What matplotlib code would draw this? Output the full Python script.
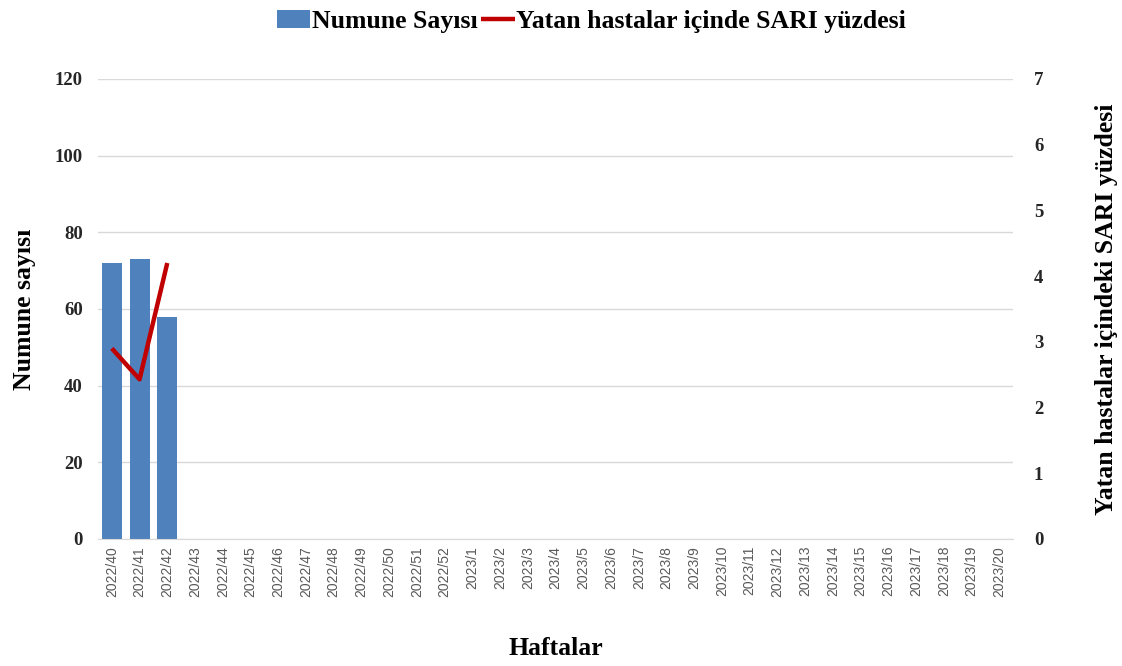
import matplotlib
matplotlib.use('Agg')
import matplotlib.pyplot as plt
import numpy as np

# haftalar
weeks = ['2022/%d' % w for w in range(40, 53)] + ['2023/%d' % w for w in range(1, 21)]
numune = [72, 73, 58]
sari_yuzde = [2.9, 2.43, 4.2]

serif = 'Liberation Serif'

fig = plt.figure(figsize=(11.22, 6.66), dpi=100)
ax = fig.add_axes([0.0873, 0.1907, 0.8157, 0.6907])
ax2 = ax.twinx()

x = np.arange(len(weeks))
ax.bar(x[:len(numune)], numune, width=0.72, color='#4f81bd', label='Numune Sayısı', zorder=2)
ax2.plot(x[:len(sari_yuzde)], sari_yuzde, color='#c00000', lw=3.2, label='Yatan hastalar içinde SARI yüzdesi',
         solid_capstyle='butt')

ax.set_xlim(-0.5, len(weeks) - 0.5)
ax.set_ylim(0, 120)
ax.set_yticks(range(0, 121, 20))
ax2.set_ylim(0, 7)
ax2.set_yticks(range(0, 8))

ax.grid(axis='y', color='#d9d9d9', lw=1, zorder=0)
ax.set_axisbelow(True)
for a in (ax, ax2):
    for s in a.spines.values():
        s.set_visible(False)
ax.spines['bottom'].set_visible(True)
ax.spines['bottom'].set_color('#d9d9d9')

ax.set_xticks(x)
ax.set_xticklabels(weeks, rotation=90, fontsize=10, color='#595959', family='Liberation Sans')
ax.tick_params(axis='x', length=0, pad=5)
ax.tick_params(axis='y', length=0, pad=11)
ax2.tick_params(axis='y', length=0, pad=15)
for lab in ax.get_yticklabels() + ax2.get_yticklabels():
    lab.set_fontfamily(serif)
    lab.set_fontweight('bold')
    lab.set_fontsize(13.5)
    lab.set_color('#262626')

ax.set_xlabel('Haftalar', fontsize=18.5, fontweight='bold', family=serif, labelpad=29)
ax.set_ylabel('Numune sayısı', fontsize=18.5, fontweight='bold', family=serif, labelpad=13)
ax2.set_ylabel('Yatan hastalar içindeki SARI yüzdesi', fontsize=18.5, fontweight='bold', family=serif, labelpad=37)

h1, l1 = ax.get_legend_handles_labels()
h2, l2 = ax2.get_legend_handles_labels()
fig.legend(h1 + h2, l1 + l2, loc='upper center', bbox_to_anchor=(0.527, 1.02), ncol=2, frameon=False,
           prop={'family': serif, 'weight': 'bold', 'size': 18.5}, handlelength=1.3, handletextpad=0.05,
           columnspacing=0.15)

plt.savefig('out.png', dpi=100)
